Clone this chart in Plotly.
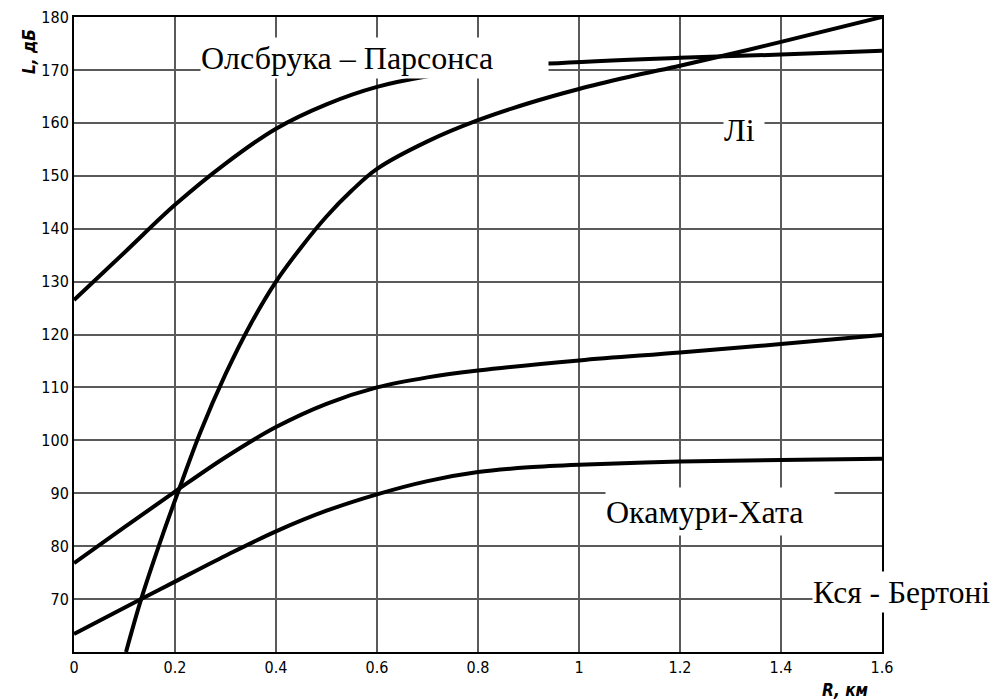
import plotly.graph_objects as go

# Data
R_op = [0, 0.1, 0.2, 0.3, 0.4, 0.5, 0.6, 0.7, 0.8, 0.94, 1.2, 1.4, 1.6]
L_op = [126.5, 135.5, 144.5, 152.3, 158.9, 163.5, 166.8, 168.8, 170.1, 171.2, 172.3, 172.9, 173.6]

R_li = [0.103, 0.133, 0.175, 0.214, 0.25, 0.3, 0.35, 0.4, 0.45, 0.5, 0.55, 0.6, 0.7, 0.8, 0.9, 1.0, 1.1, 1.2, 1.3, 1.4, 1.6]
L_li = [60, 70, 82, 92.3, 101.5, 112.5, 122, 130, 136.5, 142.3, 147.2, 151.3, 156.5, 160.5, 163.7, 166.4, 168.7, 170.8, 173.0, 175.3, 180]

R_mid = [0, 0.1, 0.2, 0.3, 0.4, 0.5, 0.6, 0.7, 0.8, 1.0, 1.2, 1.4, 1.6]
L_mid = [76.8, 83.6, 90.3, 96.8, 102.5, 106.9, 110.0, 111.9, 113.2, 115.1, 116.6, 118.2, 119.9]

R_bot = [0, 0.133, 0.2, 0.3, 0.4, 0.5, 0.6, 0.7, 0.8, 0.9, 1.0, 1.2, 1.4, 1.6]
L_bot = [63.4, 70, 73.3, 78.2, 82.8, 86.7, 89.8, 92.3, 94.0, 94.9, 95.4, 96.0, 96.3, 96.5]

x_ticks = [0, 0.2, 0.4, 0.6, 0.8, 1.0, 1.2, 1.4, 1.6]
x_labels = ["0", "0.2", "0.4", "0.6", "0.8", "1", "1.2", "1.4", "1.6"]
y_ticks = [70, 80, 90, 100, 110, 120, 130, 140, 150, 160, 170, 180]

labels = ["Олсбрука – Парсонса", "Лі", "Окамури-Хата", "Кся - Бертоні"]

fig = go.Figure()
for xs, ys in [(R_op, L_op), (R_li, L_li), (R_mid, L_mid), (R_bot, L_bot)]:
    fig.add_trace(go.Scatter(x=xs, y=ys, mode="lines",
                             line=dict(color="black", width=4, shape="spline", smoothing=1.0),
                             showlegend=False, hoverinfo="skip"))

tickfont = dict(family="DejaVu Sans Condensed, DejaVu Sans", size=16, color="black")
fig.update_xaxes(range=[0, 1.6], tickvals=x_ticks, ticktext=x_labels, showgrid=True,
                 gridcolor="#5a5a5a", gridwidth=1.5, showline=True, linecolor="black",
                 linewidth=2, mirror=True, ticks="", tickfont=tickfont, zeroline=False,
                 automargin=False)
fig.update_yaxes(range=[60, 180], tickvals=y_ticks, showgrid=True,
                 gridcolor="#5a5a5a", gridwidth=1.5, showline=True, linecolor="black",
                 linewidth=2, mirror=True, ticks="", tickfont=tickfont, zeroline=False,
                 automargin=False)

serif = dict(family="Liberation Serif, Times New Roman, serif", size=32, color="black")
# label boxes (white background hides lines beneath, as in reference)
boxes = [
    (labels[0], 0.249, 172.2, 347, 40, 32),
    (labels[1], 1.285, 158.6, 40, 38, 32),
    (labels[2], 1.0515, 86.6, 228, 47, 32),
    (labels[3], 1.4614, 71.4, 200, 40, 31.5),
]
for text, x, y, w, h, fs in boxes:
    fig.add_annotation(x=x, y=y, xref="x", yref="y", text=text, showarrow=False,
                       xanchor="left", yanchor="middle", align="left",
                       width=w, height=h, borderpad=0, bgcolor="white",
                       font=dict(serif, size=fs))

axfont = dict(family="DejaVu Sans Condensed, DejaVu Sans", size=17, color="black")
fig.add_annotation(x=(845 - 74) / 808, y=-(690 - 652) / 635, xref="paper", yref="paper",
                   text="<b><i>R, км</i></b>", showarrow=False,
                   xanchor="center", yanchor="middle", font=axfont)
fig.add_annotation(x=(29 - 74) / 808, y=(652 - 52) / 635, xref="paper", yref="paper",
                   text="<b><i>L, дБ</i></b>", showarrow=False, textangle=-90,
                   xanchor="center", yanchor="middle", font=axfont)

fig.update_layout(width=1000, height=699, margin=dict(l=74, r=118, t=17, b=47, autoexpand=False),
                  plot_bgcolor="white", paper_bgcolor="white")
fig.write_html("out.html", config={"displayModeBar": False},
               post_script="document.body.style.margin='0px';")
